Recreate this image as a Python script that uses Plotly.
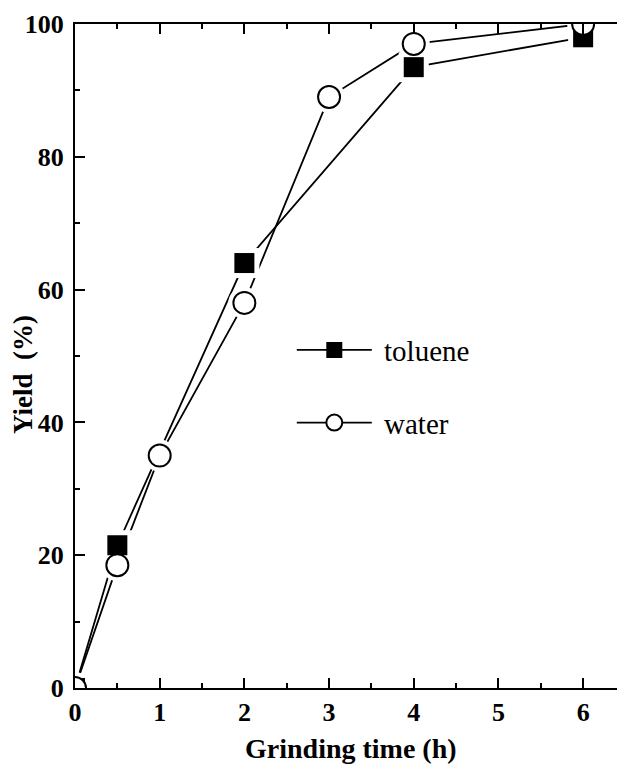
import plotly.graph_objects as go

tol_x = [0, 0.5, 2, 4, 6]
tol_y = [0, 21.5, 64, 93.5, 98]
wat_x = [0, 0.5, 1, 2, 3, 4, 6]
wat_y = [0, 18.5, 35, 58, 89, 97, 100]

FONT = "Liberation Serif, Times New Roman, Times, serif"
fig = go.Figure()

# series with lines (legend entries)
fig.add_trace(go.Scatter(x=tol_x, y=tol_y, mode="lines+markers", name=" toluene",
                         line=dict(color="black", width=1.8),
                         marker=dict(symbol="square", size=20, color="black"),
                         legendgroup="a"))
fig.add_trace(go.Scatter(x=wat_x, y=wat_y, mode="lines+markers", name=" water",
                         line=dict(color="black", width=1.8),
                         marker=dict(symbol="circle", size=22, color="white",
                                     line=dict(color="black", width=2)),
                         legendgroup="b"))
# white halos to create gaps between lines and markers
fig.add_trace(go.Scatter(x=tol_x, y=tol_y, mode="markers", showlegend=False,
                         marker=dict(symbol="square", size=30, color="white"), hoverinfo="skip"))
fig.add_trace(go.Scatter(x=wat_x, y=wat_y, mode="markers", showlegend=False,
                         marker=dict(symbol="circle", size=32, color="white"), hoverinfo="skip"))
# markers on top
fig.add_trace(go.Scatter(x=tol_x, y=tol_y, mode="markers", showlegend=False,
                         marker=dict(symbol="square", size=20, color="black")))
fig.add_trace(go.Scatter(x=wat_x, y=wat_y, mode="markers", showlegend=False,
                         marker=dict(symbol="circle", size=22, color="white",
                                     line=dict(color="black", width=2))))

axis_common = dict(
    showgrid=False, zeroline=False, showline=True, linecolor="black", linewidth=2,
    ticks="inside", ticklen=10, tickwidth=2, tickcolor="black",
    tickfont=dict(family=FONT, size=26, color="black", weight="bold"),
)
fig.update_xaxes(range=[0, 6.4], dtick=1, mirror="ticks",
                 minor=dict(dtick=0.5, ticks="inside", ticklen=5, tickwidth=2, tickcolor="black"),
                 **axis_common)
fig.update_yaxes(range=[0, 100], dtick=20, mirror=False,
                 minor=dict(dtick=10, ticks="inside", ticklen=5, tickwidth=2, tickcolor="black"),
                 ticklabelstandoff=4,
                 **axis_common)

fig.update_layout(
    width=617, height=764,
    margin=dict(l=75, r=0, t=24, b=76),
    paper_bgcolor="white", plot_bgcolor="white",
    showlegend=True,
    legend=dict(x=0.40, y=0.454, xanchor="left", yanchor="middle",
                bgcolor="rgba(0,0,0,0)", itemwidth=75, traceorder="grouped",
                tracegroupgap=32,
                font=dict(family=FONT, size=29, color="black")),
    annotations=[
        dict(text="<b>Grinding time (h)</b>", xref="paper", yref="paper",
             x=0.51, y=(688 - 731) / 664, xanchor="center", yanchor="top",
             showarrow=False, font=dict(family=FONT, size=28, color="black")),
        dict(text="<b>Yield  (%)</b>", xref="paper", yref="paper",
             x=(23 - 75) / 542, y=(688 - 375) / 664, xanchor="center", yanchor="middle",
             textangle=-90, showarrow=False, font=dict(family=FONT, size=27, color="black")),
    ],
)

fig.write_html("out.html")
